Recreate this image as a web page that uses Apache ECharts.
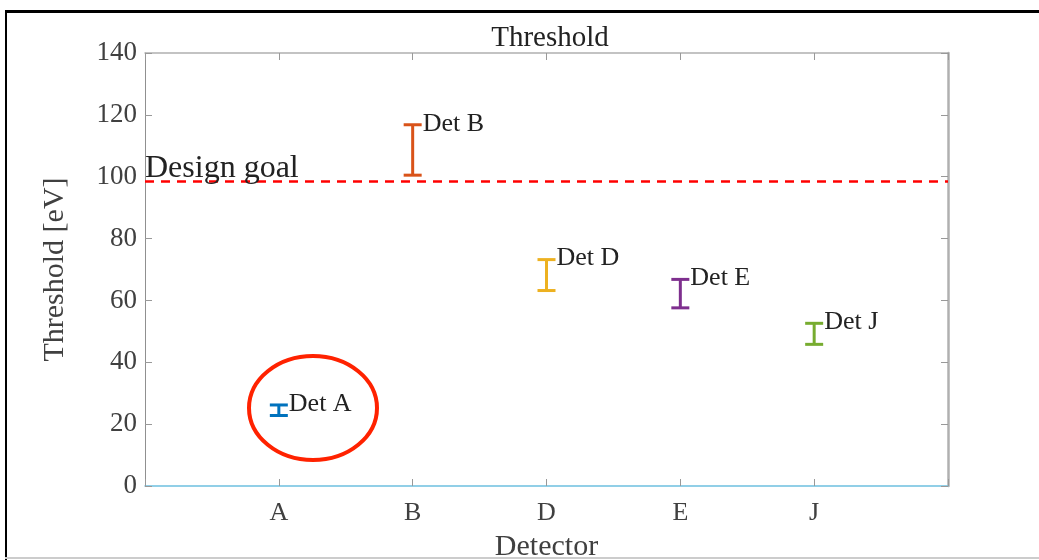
<!DOCTYPE html>
<html>
<head>
<meta charset="utf-8">
<script src="https://cdn.jsdelivr.net/npm/echarts@6/dist/echarts.min.js"></script>
<style>
  html, body { margin: 0; padding: 0; background: #fff; }
  #chart { width: 1039px; height: 560px; }
</style>
</head>
<body>
<div id="chart"></div>
<script>
var detectors = ['A', 'B', 'D', 'E', 'J'];
var labels = ['Det A', 'Det B', 'Det D', 'Det E', 'Det J'];
var lowValues = [22.8, 100.5, 63.2, 57.6, 45.8];
var highValues = [26.2, 116.8, 73.2, 66.8, 52.6];
var colors = ['#0072BD', '#D95319', '#EDB120', '#7E2F8E', '#77AC30'];
var designGoal = 98.6;
var yTicks = [0, 20, 40, 60, 80, 100, 120, 140];

var serif = '"Liberation Serif", "Times New Roman", serif';
var textColor = '#404040';

var myChart = echarts.init(document.getElementById('chart'));

var barData = detectors.map(function (d, i) {
	return {
		value: [i + 1, lowValues[i], highValues[i]],
		name: labels[i],
		itemStyle: { color: colors[i] }
	};
});

function renderErrorBar(params, api) {
	var x = api.value(0);
	var lo = api.coord([x, api.value(1)]);
	var hi = api.coord([x, api.value(2)]);
	var half = 9;
	var color = api.visual('color');
	var style = { stroke: color, lineWidth: 3, fill: null };
	return {
		type: 'group',
		children: [
			{ type: 'line', shape: { x1: lo[0], y1: lo[1], x2: hi[0], y2: hi[1] }, style: style },
			{ type: 'line', shape: { x1: lo[0] - half, y1: lo[1], x2: lo[0] + half, y2: lo[1] }, style: style },
			{ type: 'line', shape: { x1: hi[0] - half, y1: hi[1], x2: hi[0] + half, y2: hi[1] }, style: style },
			{
				type: 'text',
				x: hi[0] + 10,
				y: hi[1] - 1,
				style: {
					text: labels[params.dataIndex],
					font: '26px ' + serif,
					fill: '#222',
					align: 'left',
					verticalAlign: 'middle'
				}
			}
		]
	};
}

var tickStyle = { inside: true, length: 7, lineStyle: { color: '#999' } };

var option = {
	backgroundColor: '#fff',
	animation: false,
	title: {
		text: 'Threshold',
		left: 545,
		textAlign: 'center',
		top: 19,
		textStyle: { fontFamily: serif, fontSize: 29, fontWeight: 'normal', color: '#222' }
	},
	grid: { left: 145, right: 91, top: 53, bottom: 74, outerBoundsMode: 'none', containLabel: false },
	xAxis: [
		{
			type: 'value',
			min: 0,
			max: 6,
			interval: 1,
			name: 'Detector',
			nameLocation: 'middle',
			nameGap: 46,
			nameTextStyle: { fontFamily: serif, fontSize: 30, color: textColor },
			axisLine: { onZero: false, lineStyle: { color: '#6ec0e0', width: 1.5 } },
			axisTick: tickStyle,
			axisLabel: {
				fontFamily: serif, fontSize: 26, color: textColor, margin: 14,
				formatter: function (v) { return detectors[v - 1] || ''; }
			},
			splitLine: { show: false }
		},
		{
			type: 'value',
			position: 'top',
			min: 0,
			max: 6,
			interval: 1,
			axisLine: { show: true, onZero: false, lineStyle: { color: '#b0b0b0', width: 1.5 } },
			axisTick: tickStyle,
			axisLabel: { show: false },
			splitLine: { show: false }
		}
	],
	yAxis: [
		{
			type: 'value',
			min: 0,
			max: 140,
			interval: 20,
			name: 'Threshold [eV]',
			nameLocation: 'middle',
			nameGap: 75,
			nameTextStyle: { fontFamily: serif, fontSize: 30, color: textColor },
			axisLine: { show: true, onZero: false, lineStyle: { color: '#909090', width: 1 } },
			axisTick: tickStyle,
			axisLabel: {
				fontFamily: serif, fontSize: 27, color: textColor, margin: 8,
				formatter: function (v) { return yTicks.indexOf(v) >= 0 ? String(v) : ''; }
			},
			splitLine: { show: false }
		},
		{
			type: 'value',
			position: 'right',
			min: 0,
			max: 140,
			interval: 20,
			axisLine: { show: true, onZero: false, lineStyle: { color: '#b0b0b0', width: 2.5 } },
			axisTick: tickStyle,
			axisLabel: { show: false },
			splitLine: { show: false }
		}
	],
	series: [
		{
			type: 'custom',
			name: 'Threshold',
			renderItem: renderErrorBar,
			encode: { x: 0, y: [1, 2] },
			data: barData,
			z: 5
		},
		{
			type: 'line',
			data: [],
			markLine: {
				silent: true,
				symbol: 'none',
				lineStyle: { color: '#ff0000', type: [9, 7], width: 2.5 },
				label: {
					show: true,
					position: 'insideStartTop',
					formatter: 'Design goal',
					fontFamily: serif,
					fontSize: 32,
					color: '#222',
					distance: [0, -4]
				},
				data: [{ yAxis: designGoal }]
			}
		}
	],
	graphic: [
		{
			type: 'ellipse',
			shape: { cx: 313, cy: 408, rx: 64, ry: 52 },
			style: { fill: null, stroke: '#ff2200', lineWidth: 4 },
			z: 10
		},
		{ type: 'rect', shape: { x: 5, y: 10, width: 1040, height: 3 }, style: { fill: '#000' } },
		{ type: 'rect', shape: { x: 5, y: 10, width: 2, height: 560 }, style: { fill: '#000' } },
		{ type: 'rect', shape: { x: 5, y: 557, width: 1040, height: 2 }, style: { fill: '#ccc' } }
	]
};

myChart.setOption(option, true);
</script>
</body>
</html>
